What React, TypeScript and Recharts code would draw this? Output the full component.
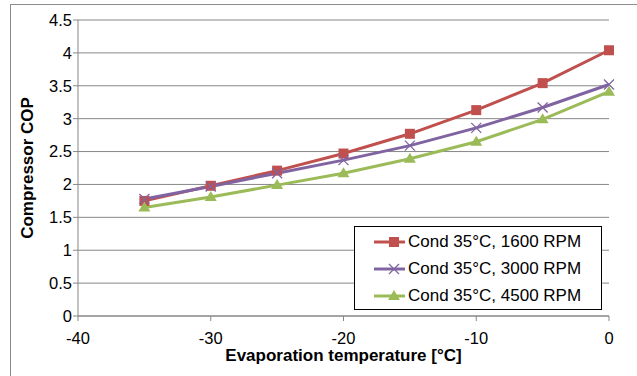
import { CartesianGrid, Label, Line, LineChart, XAxis, YAxis } from "recharts";

const evapTemps = [-35, -30, -25, -20, -15, -10, -5, 0];
const cop1600 = [1.75, 1.98, 2.21, 2.47, 2.77, 3.13, 3.54, 4.04];
const cop3000 = [1.78, 1.97, 2.17, 2.37, 2.59, 2.86, 3.17, 3.52];
const cop4500 = [1.65, 1.81, 1.99, 2.17, 2.39, 2.65, 2.99, 3.41];
const xTicks = [-40, -30, -20, -10, 0];
const yTicks = [0, 0.5, 1, 1.5, 2, 2.5, 3, 3.5, 4, 4.5];

const seriesNames = ["Cond 35°C, 1600 RPM", "Cond 35°C, 3000 RPM", "Cond 35°C, 4500 RPM"];

const RED = "#C0504D";
const PURPLE = "#8064A2";
const GREEN = "#9BBB59";
const GRID = "#878787";
const FONT = "'Liberation Sans', Arial, sans-serif";

const data = evapTemps.map((t, i) => ({
	t,
	a: cop1600[i],
	b: cop3000[i],
	c: cop4500[i],
}));

const Square = (props: any) => {
	const { cx, cy } = props;
	if (cx == null || cy == null) return null;
	return <rect x={cx - 5} y={cy - 5} width={10} height={10} fill={RED} />;
};

const Cross = (props: any) => {
	const { cx, cy } = props;
	if (cx == null || cy == null) return null;
	return (
		<path
			d={`M${cx - 5},${cy - 5}L${cx + 5},${cy + 5}M${cx - 5},${cy + 5}L${cx + 5},${cy - 5}`}
			stroke={PURPLE}
			strokeWidth={1.3}
			fill="none"
		/>
	);
};

const Triangle = (props: any) => {
	const { cx, cy } = props;
	if (cx == null || cy == null) return null;
	return (
		<path d={`M${cx},${cy - 6}L${cx + 6},${cy + 4}L${cx - 6},${cy + 4}Z`} fill={GREEN} />
	);
};

const legendIcons = [
	<rect x={15} y={4} width={10} height={10} fill={RED} />,
	<path d="M15,4L25,14M15,14L25,4" stroke={PURPLE} strokeWidth={1.3} fill="none" />,
	<path d="M20,3L26,13L14,13Z" fill={GREEN} />,
];
const legendColors = [RED, PURPLE, GREEN];

const LegendBox = () => (
	<div
		style={{
			position: "absolute",
			left: 354,
			top: 226,
			width: 246,
			height: 81,
			border: "1px solid #000",
			background: "#fff",
			paddingTop: 1,
		}}
	>
		{seriesNames.map((name, i) => (
			<div
				key={name}
				style={{
					display: "flex",
					alignItems: "center",
					height: 27.3,
					paddingLeft: 19,
					fontFamily: FONT,
					fontSize: 17,
					color: "#000",
					whiteSpace: "nowrap",
				}}
			>
				<svg width={32} height={18} style={{ marginRight: 2, flex: "none" }}>
					<line x1={0} y1={9} x2={31} y2={9} stroke={legendColors[i]} strokeWidth={3} />
					{legendIcons[i]}
				</svg>
				<span>{name}</span>
			</div>
		))}
	</div>
);

export default function App() {
	return (
		<div
			style={{
				position: "absolute",
				left: 0,
				top: 0,
				width: 637,
				height: 376,
				overflow: "hidden",
				background: "#fff",
			}}
		>
			<div
				style={{
					position: "absolute",
					left: 10,
					top: 4,
					width: 700,
					height: 500,
					border: "1px solid #8c8c8c",
				}}
			/>
			<div style={{ position: "absolute", left: 0, top: 0 }}>
				<LineChart
					width={637}
					height={376}
					data={data}
					margin={{ top: 20, right: 28, bottom: 0, left: 0 }}
				>
					<CartesianGrid vertical={false} stroke={GRID} strokeWidth={1} />
					<XAxis
						dataKey="t"
						type="number"
						domain={[-40, 0]}
						ticks={xTicks}
						interval={0}
						stroke={GRID}
						tickSize={5}
						tickMargin={11}
						height={60}
						tick={{ fill: "#000", fontSize: 16.5, fontFamily: FONT }}
					>
						<Label
							content={(props: any) => {
								const vb = props.viewBox;
								const cx = vb.x + vb.width / 2;
								return (
									<text
										x={cx}
										y={355}
										textAnchor="middle"
										dominantBaseline="central"
										style={{ fill: "#000", fontSize: 17, fontWeight: "bold", fontFamily: FONT }}
									>
										Evaporation temperature [°C]
									</text>
								);
							}}
						/>
					</XAxis>
					<YAxis
						type="number"
						domain={[0, 4.5]}
						ticks={yTicks}
						interval={0}
						width={78}
						stroke={GRID}
						tickSize={5}
						tickMargin={1}
						tick={{ fill: "#000", fontSize: 16.5, fontFamily: FONT }}
					>
						<Label
							content={(props: any) => {
								const vb = props.viewBox;
								const cy = vb.y + vb.height / 2;
								return (
									<text
										x={27}
										y={cy}
										transform={`rotate(-90, 27, ${cy})`}
										textAnchor="middle"
										dominantBaseline="central"
										style={{ fill: "#000", fontSize: 17, fontWeight: "bold", fontFamily: FONT }}
									>
										Compressor COP
									</text>
								);
							}}
						/>
					</YAxis>
					<Line
						type="linear"
						dataKey="a"
						name={seriesNames[0]}
						stroke={RED}
						strokeWidth={3}
						dot={<Square />}
						activeDot={false}
						isAnimationActive={false}
					/>
					<Line
						type="linear"
						dataKey="b"
						name={seriesNames[1]}
						stroke={PURPLE}
						strokeWidth={3}
						dot={<Cross />}
						activeDot={false}
						isAnimationActive={false}
					/>
					<Line
						type="linear"
						dataKey="c"
						name={seriesNames[2]}
						stroke={GREEN}
						strokeWidth={3}
						dot={<Triangle />}
						activeDot={false}
						isAnimationActive={false}
					/>
				</LineChart>
			</div>
			<LegendBox />
		</div>
	);
}
